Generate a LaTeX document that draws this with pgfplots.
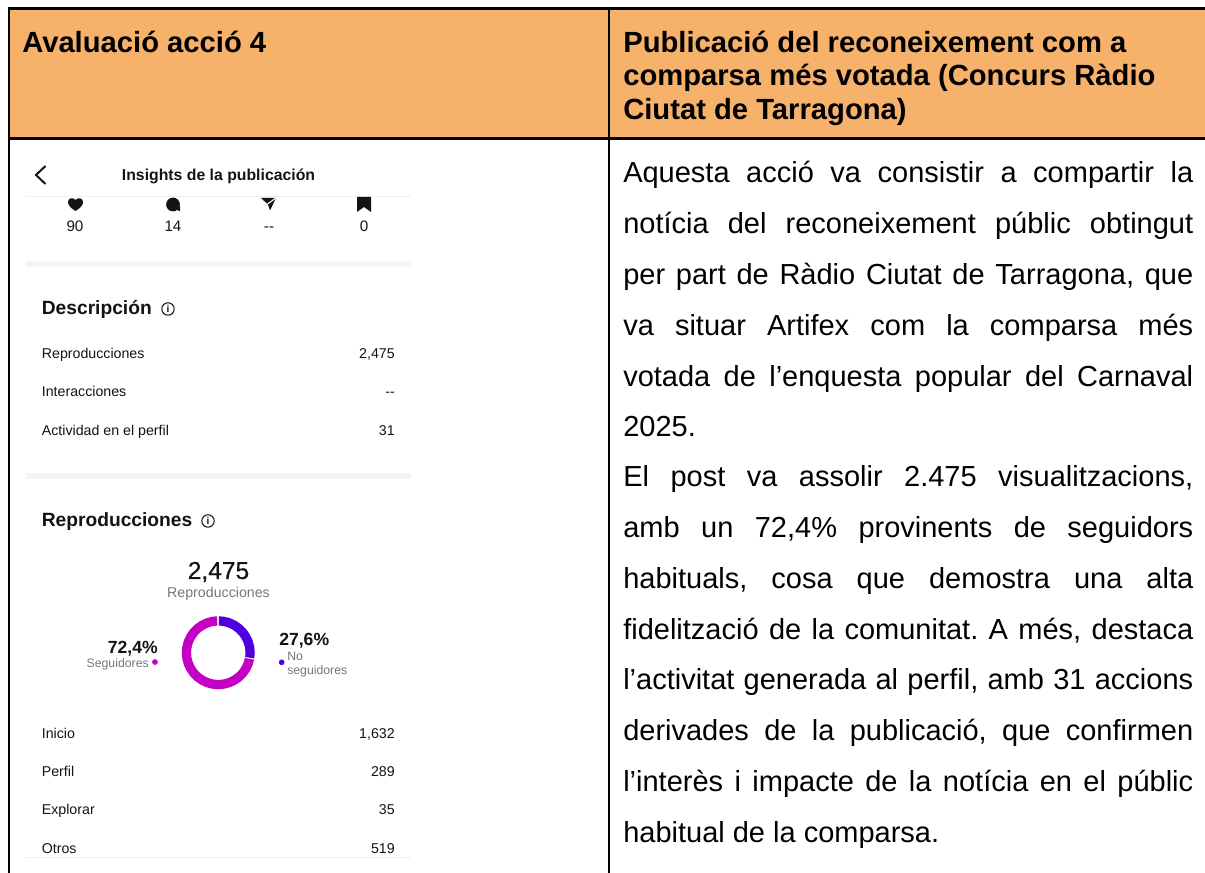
\documentclass[border=0pt]{standalone}
\usepackage{fontspec}
\usepackage{pgfplots}
\pgfplotsset{compat=1.18}
\usepgfplotslibrary{polar}
\setmainfont{Liberation Sans}
\newfontfamily\medfont[FakeBold=0.5]{Liberation Sans}
\frenchspacing
\definecolor{hdr}{HTML}{F6B26B}
\definecolor{band}{HTML}{F5F5F5}
\definecolor{hair}{HTML}{EFEFEF}
\definecolor{ink}{HTML}{111418}
\definecolor{soft}{HTML}{737780}
\definecolor{mag}{HTML}{C400C4}
\definecolor{pur}{HTML}{5000DC}
\newcommand\sz[1]{\fontsize{#1}{#1}\selectfont}
\newcommand\bodyline[2]{\node[anchor=base west,inner sep=0pt] at (623,#1) {\sz{21.75pt}\makebox[427.5pt][s]{#2}};}
\newcommand\lastline[2]{\node[anchor=base west,inner sep=0pt] at (623,#1) {\sz{21.75pt}#2};}
\newcommand\hd[3]{\node[anchor=base west,inner sep=0pt] at (#1,#2) {\sz{21.9pt}\bfseries #3};}
\newcommand\lab[3]{\node[anchor=base west,inner sep=0pt,text=ink] at (41.6,#1) {\sz{10.65pt}#2};\node[anchor=base east,inner sep=0pt,text=ink] at (395,#1) {\sz{10.65pt}#3};}
\newcommand\info[2]{\draw[ink,line width=.8pt] (#1,#2) circle (6.2);\node[inner sep=0pt,text=ink] at (#1,#2) {\sz{7.5pt}\bfseries i};}
\begin{document}
\begin{tikzpicture}
\useasboundingbox (0,0) rectangle (903.75pt,654.75pt);
\fill[white] (0,0) rectangle (903.75pt,654.75pt);
\begin{scope}[shift={(0,654.75pt)},x=.75pt,y=-.75pt]
\fill[hdr] (9,8) rectangle (1205,139);
\draw[black,line width=2.1pt] (1205,8.5) -- (7.5,8.5);
\draw[black,line width=2.1pt] (9,7) -- (9,873);
\draw[black,line width=2.1pt] (609,7) -- (609,873);
\draw[black,line width=2.1pt] (7.5,138.5) -- (1205,138.5);
\hd{22}{53}{Avaluació acció 4}
\hd{623}{53}{Publicació del reconeixement com a}
\hd{623}{86}{comparsa més votada (Concurs Ràdio}
\hd{623}{119.5}{Ciutat de Tarragona)}
\bodyline{183}{Aquesta acció va consistir a compartir la}
\bodyline{234}{notícia del reconeixement públic obtingut}
\bodyline{285}{per part de Ràdio Ciutat de Tarragona, que}
\bodyline{336}{va situar Artifex com la comparsa més}
\bodyline{387}{votada de l’enquesta popular del Carnaval}
\lastline{437}{2025.}
\bodyline{487}{El post va assolir 2.475 visualitzacions,}
\bodyline{538}{amb un 72,4\% provinents de seguidors}
\bodyline{589}{habituals, cosa que demostra una alta}
\bodyline{640}{fidelització de la comunitat. A més, destaca}
\bodyline{690}{l’activitat generada al perfil, amb 31 accions}
\bodyline{741}{derivades de la publicació, que confirmen}
\bodyline{792}{l’interès i impacte de la notícia en el públic}
\lastline{843}{habitual de la comparsa.}
% phone panel
\draw[ink,line width=1.5pt] (45.5,166) -- (36,175) -- (45.5,184);
\node[anchor=base,inner sep=0pt,text=ink] at (218.5,181) {\sz{11.85pt}\bfseries Insights de la publicación};
\fill[hair] (26,196) rectangle (411,197);
\fill[ink] (75.5,211) .. controls (70,207.5) and (68,205) .. (68,202) .. controls (68,198.5) and (72.5,196.5) .. (75.5,200) .. controls (78.5,196.5) and (83,198.5) .. (83,202) .. controls (83,205) and (81,207.5) .. (75.5,211) -- cycle;
\fill[ink] (173,204.5) circle (6.9);
\fill[ink] (175,209) -- (180.2,206) -- (180.2,211.3) -- cycle;
\fill[ink] (261,198) -- (276,198) -- (270,210.5) -- (268,204.5) -- cycle;
\draw[white,line width=.8pt] (276,198) -- (267.5,204);
\fill[ink] (357,197) -- (371,197) -- (371,212) -- (364,207) -- (357,212) -- cycle;
\foreach \xx/\tt in {75/90,173/14,269/-{}-,364/0}{\node[anchor=base,inner sep=0pt,text=ink] at (\xx,232) {\sz{11.4pt}\tt};}
\fill[band] (26,261) rectangle (411,266.7);
\node[anchor=base west,inner sep=0pt,text=ink] at (41.6,315) {\sz{14.4pt}\bfseries Descripción};
\info{168}{309}
\lab{359}{Reproducciones}{2,475}
\lab{397}{Interacciones}{-{}-}
\lab{436}{Actividad en el perfil}{31}
\fill[band] (26,472.7) rectangle (411,478.7);
\node[anchor=base west,inner sep=0pt,text=ink] at (41.6,527) {\sz{14.4pt}\bfseries Reproducciones};
\info{208}{521}
\node[anchor=base,inner sep=0pt,text=ink] at (218.5,579) {\sz{18.4pt}\medfont 2,475};
\node[anchor=base,inner sep=0pt,text=soft] at (218.5,598) {\sz{10.65pt}Reproducciones};
\node[anchor=base east,inner sep=0pt,text=ink] at (158,654) {\sz{13.2pt}\bfseries 72,4\%};
\node[anchor=base east,inner sep=0pt,text=soft] at (149,668) {\sz{9.2pt}Seguidores};
\node[anchor=base west,inner sep=0pt,text=ink] at (279,646) {\sz{13.2pt}\bfseries 27,6\%};
\node[anchor=base west,inner sep=0pt,text=soft] at (287,661) {\sz{9.2pt}No};
\node[anchor=base west,inner sep=0pt,text=soft] at (287,675) {\sz{9.2pt}seguidores};
\lab{739}{Inicio}{1,632}
\lab{777}{Perfil}{289}
\lab{815}{Explorar}{35}
\lab{854}{Otros}{519}
\fill[hair] (26,857) rectangle (411,858);
\end{scope}
\begin{axis}[at={(163.7pt,165.2pt)},anchor=center,width=60pt,height=60pt,scale only axis,
  xmin=-40,xmax=40,ymin=-40,ymax=40,axis lines=none,clip=false]
\addplot[fill=pur,draw=none,data cs=polar,forget plot] coordinates {
 (89,36.5) (80,36.5) (70,36.5) (60,36.5) (50,36.5) (40,36.5) (30,36.5) (20,36.5) (10,36.5) (0,36.5) (-9,36.5)
 (-9,27.2) (0,27.2) (10,27.2) (20,27.2) (30,27.2) (40,27.2) (50,27.2) (60,27.2) (70,27.2) (80,27.2) (89,27.2)} -- cycle;
\addplot[fill=mag,draw=none,data cs=polar,forget plot] coordinates {
 (-11,36.5) (-20,36.5) (-30,36.5) (-40,36.5) (-50,36.5) (-60,36.5) (-70,36.5) (-80,36.5) (-90,36.5) (-100,36.5) (-110,36.5) (-120,36.5) (-130,36.5) (-140,36.5) (-150,36.5) (-160,36.5) (-170,36.5) (-180,36.5) (-190,36.5) (-200,36.5) (-210,36.5) (-220,36.5) (-230,36.5) (-240,36.5) (-250,36.5) (-260,36.5) (-268,36.5)
 (-268,27.2) (-260,27.2) (-250,27.2) (-240,27.2) (-230,27.2) (-220,27.2) (-210,27.2) (-200,27.2) (-190,27.2) (-180,27.2) (-170,27.2) (-160,27.2) (-150,27.2) (-140,27.2) (-130,27.2) (-120,27.2) (-110,27.2) (-100,27.2) (-90,27.2) (-80,27.2) (-70,27.2) (-60,27.2) (-50,27.2) (-40,27.2) (-30,27.2) (-20,27.2) (-11,27.2)} -- cycle;
\addplot[only marks,mag,mark=*,mark size=1.9pt,mark options={fill=mag,draw=mag},forget plot] coordinates {(-63.3,-9.3)};
\addplot[only marks,pur,mark=*,mark size=1.9pt,mark options={fill=pur,draw=pur},forget plot] coordinates {(63.4,-9.6)};
\end{axis}
\end{tikzpicture}
\end{document}
